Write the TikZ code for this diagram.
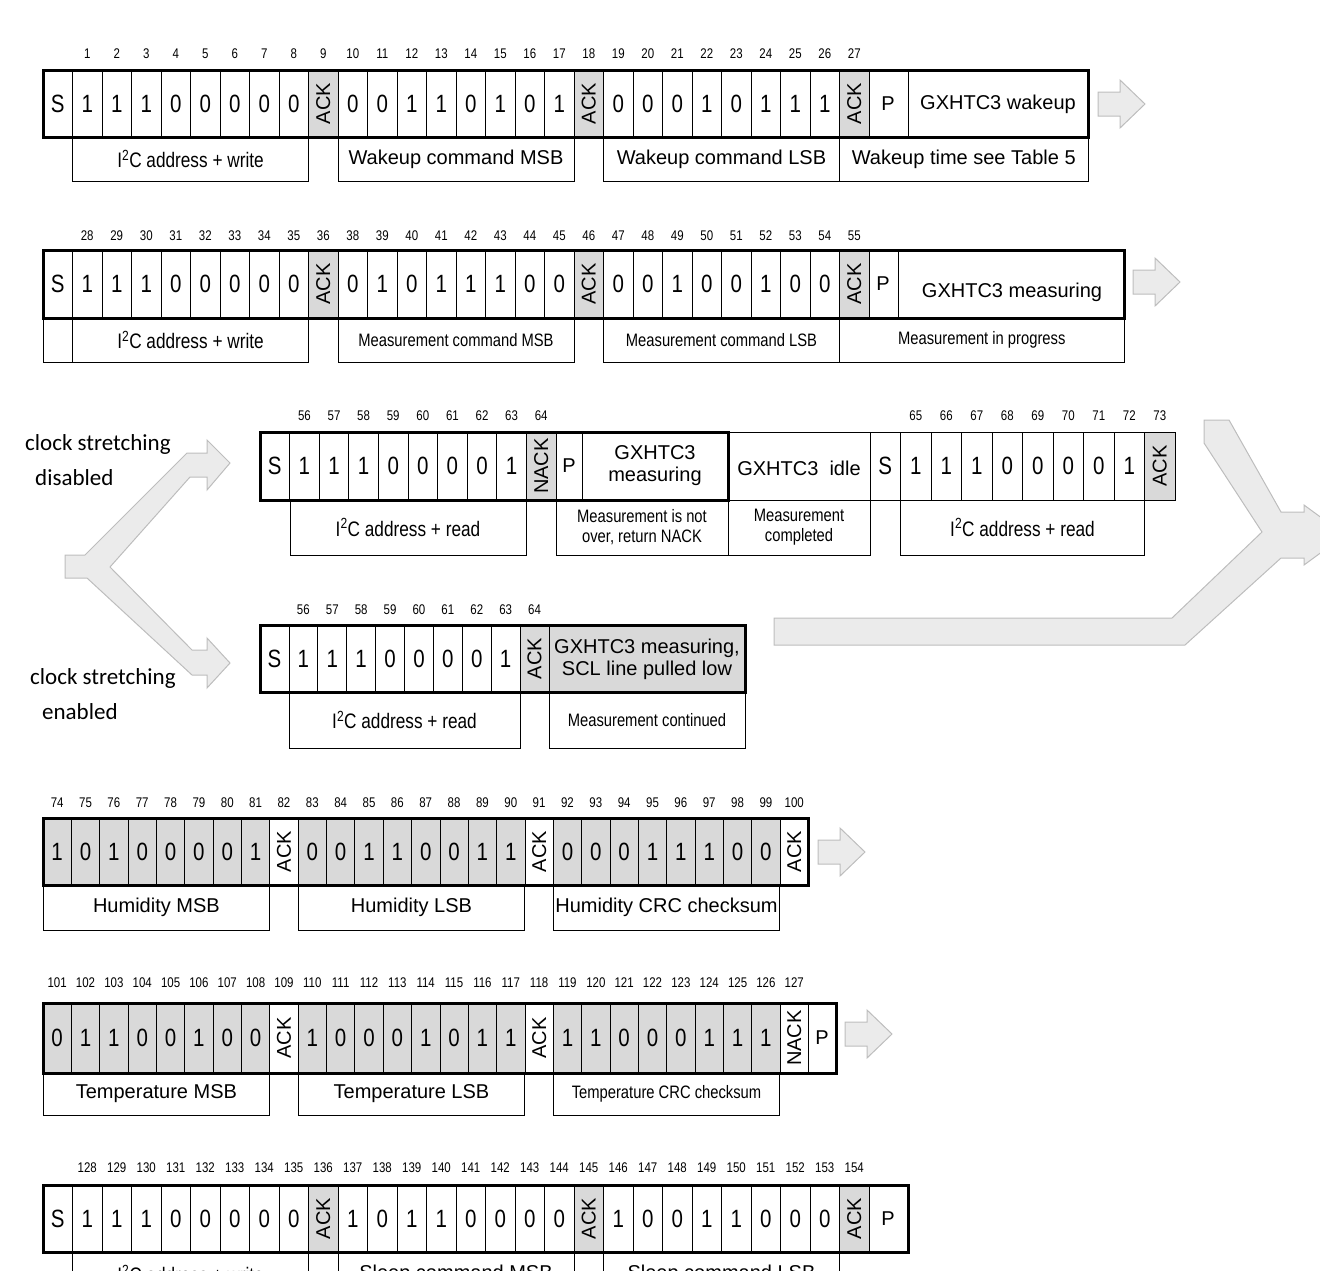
\documentclass[tikz,border=0pt]{standalone}
\usepackage{fontspec}
\usepackage{ifthen}
\setmainfont{Liberation Sans}
\newfontfamily\narrow[FakeStretch=0.82]{Liberation Sans}
\newfontfamily\calib{Carlito}
\definecolor{ackgray}{HTML}{D9D9D9}
\definecolor{arrfill}{HTML}{EBEBEB}
\definecolor{arrline}{HTML}{BDBDBD}
\tikzset{
 cell/.style={draw=black,line width=0.8pt},
 frame/.style={draw=black,line width=3pt},
 bit/.style={font=\narrow\fontsize{25}{25}\selectfont,inner sep=0pt},
 ack/.style={font=\fontsize{20}{20}\selectfont,rotate=90,inner sep=0pt},
 num/.style={font=\narrow\fontsize{14}{14}\selectfont,inner sep=0pt},
 labt/.style={font=\narrow\fontsize{21}{21}\selectfont,inner sep=0pt,align=center},
 labs/.style={font=\narrow\fontsize{18}{18}\selectfont,inner sep=0pt,align=center},
 txt/.style={font=\fontsize{20}{22}\selectfont,inner sep=0pt,align=center},
 side/.style={font=\calib\fontsize{23}{23}\selectfont,inner sep=0pt,anchor=west},
 blkarrow/.style={fill=arrfill,draw=arrline,line width=1pt,line join=miter},
}
% #1 name, #2 x0, #3 ytop, #4 ybot, #5 w, #6 cells, #7 fill
\newcommand\bitrow[7]{%
 \foreach \t [count=\i from 0] in {#6}{%
   \pgfmathsetmacro\xa{#2+\i*#5}\pgfmathsetmacro\xb{\xa+#5}\pgfmathsetmacro\xc{\xa+#5/2}%
   \pgfmathsetmacro\yc{(#3+#4)/2}%
   \ifthenelse{\equal{\t}{A}\OR\equal{\t}{N}}{\def\cf{ackgray}}{%
     \ifthenelse{\equal{\t}{a}\OR\equal{\t}{n}}{\def\cf{white}}{\def\cf{#7}}}%
   \path[cell,fill=\cf] (\xa,#3) rectangle (\xb,#4);
   \ifthenelse{\equal{\t}{A}\OR\equal{\t}{a}}{\node[ack] (#1-\i) at (\xc,\yc) {ACK};}{%
     \ifthenelse{\equal{\t}{N}\OR\equal{\t}{n}}{\node[ack] (#1-\i) at (\xc,\yc) {NACK};}{%
       \node[bit] (#1-\i) at (\xc,\yc) {\t};}}%
 }}
% #1 name #2 x0 #3 y #4 w #5 first cell #6 first num #7 last num
\newcommand\nums[7]{%
 \foreach \n [count=\i from 0] in {#6,...,#7}{%
   \node[num] (#1-n\n) at ({#2+(#5+\i+0.5)*#4},#3) {\n};}}
% #1 name #2 x1 #3 x2 #4 ytop #5 ybot #6 style #7 text
\newcommand\lab[7]{%
 \draw[cell] (#2,#4) rectangle (#3,#5);
 \node[#6] (#1) at ({(#2+#3)/2},{(#4+#5)/2}) {#7};}
% block arrow: #1 x, #2 y centre
\newcommand\blk[2]{%
 \draw[blkarrow] (#1,#2-12) -- ++(22,0) -- ++(0,-12) -- ++(25,24) -- ++(-25,24) -- ++(0,-12) -- ++(-22,0) -- cycle;}
\newcommand\Itwo{I\textsuperscript{2}C}
\begin{document}
\begin{tikzpicture}[x=1pt,y=-1pt]
\useasboundingbox (0,0) rectangle (1320,1270);
\clip (0,0) rectangle (1320,1270);

% ---------- Row 1
\bitrow{r1}{43}{70}{137}{29.5}{S,1,1,1,0,0,0,0,0,A,0,0,1,1,0,1,0,1,A,0,0,0,1,0,1,1,1,A}{white}
\nums{r1}{43}{54}{29.5}{1}{1}{27}
\draw[cell] (869,70) rectangle (908,137); \node[txt] (r1p) at (888,104) {P};
\node[txt] (r1t) at (998,104) {GXHTC3 wakeup};
\draw[frame] (43,70) rectangle (1088,137);
\lab{r1l1}{72.5}{308.5}{137}{181}{labt}{\Itwo\ address + write}
\lab{r1l2}{338}{574}{137}{181}{txt}{Wakeup command MSB}
\lab{r1l3}{603.5}{839.5}{137}{181}{txt}{Wakeup command LSB}
\lab{r1l4}{839.5}{1088}{137}{181}{txt}{Wakeup time see Table 5}
\blk{1098}{104}

% ---------- Row 2
\bitrow{r2}{43}{250}{318}{29.5}{S,1,1,1,0,0,0,0,0,A,0,1,0,1,1,1,0,0,A,0,0,1,0,0,1,0,0,A}{white}
\nums{r2}{43}{236}{29.5}{1}{28}{36}
\nums{r2}{43}{236}{29.5}{10}{38}{55}
\draw[cell] (869,250) rectangle (898,318); \node[txt] (r2p) at (883,284) {P};
\node[txt] (r2t) at (1012,292) {GXHTC3 measuring};
\draw[frame] (43,250) rectangle (1124,318);
\lab{r2l0}{43}{72.5}{318}{362}{labs}{}
\lab{r2l1}{72.5}{308.5}{318}{362}{labt}{\Itwo\ address + write}
\lab{r2l2}{338}{574}{318}{362}{labs}{Measurement command MSB}
\lab{r2l3}{603.5}{839.5}{318}{362}{labs}{Measurement command LSB}
\lab{r2l4}{839.5}{1124}{318}{362}{labs}{Measurement in progress}
\blk{1133}{282}

% ---------- Row 3
\bitrow{r3}{260}{432}{500}{29.6}{S,1,1,1,0,0,0,0,1,N}{white}
\nums{r3}{260}{416}{29.6}{1}{56}{64}
\draw[cell] (556,432) rectangle (582,500); \node[txt] (r3p) at (569,466) {P};
\node[txt] (r3t) at (655,466) {GXHTC3\\measuring};
\draw[cell] (728,432) rectangle (870,500); \node[txt] (r3i) at (799,468) {GXHTC3\ \ idle};
\bitrow{r3b}{870}{432}{500}{30.5}{S,1,1,1,0,0,0,0,1,A}{white}
\nums{r3b}{870}{416}{30.5}{1}{65}{73}
\draw[frame] (260,432) rectangle (728,500);
\lab{r3l1}{290}{526}{500}{555}{labt}{\Itwo\ address + read}
\lab{r3l2}{556}{728}{500}{555}{labs}{Measurement is not\\[2pt]over, return NACK}
\lab{r3l3}{728}{870}{500}{555}{labs}{Measurement\\[2pt]completed}
\lab{r3l4}{900.5}{1144.5}{500}{555}{labt}{\Itwo\ address + read}

% ---------- Row 4
\bitrow{r4}{260}{625}{692}{28.9}{S,1,1,1,0,0,0,0,1,A}{white}
\nums{r4}{260}{610}{28.9}{1}{56}{64}
\draw[cell,fill=ackgray] (549,625) rectangle (745,692);
\node[txt] (r4t) at (647,659) {GXHTC3 measuring,\\SCL line pulled low};
\draw[frame] (260,625) rectangle (745,692);
\lab{r4l1}{289}{520}{692}{748}{labt}{\Itwo\ address + read}
\lab{r4l2}{549}{745}{692}{748}{labs}{Measurement continued}

% ---------- side texts and fork arrow
\node[side] (cs1) at (25,444) {clock stretching};
\node[side] (cs1b) at (35,478) {disabled};
\node[side] (cs2) at (30,678) {clock stretching};
\node[side] (cs2b) at (42,712) {enabled};
\draw[blkarrow] (65,555) -- (85,555) -- (187,453) -- (207,453) -- (207,440) -- (230,463) -- (207,490) -- (207,477) -- (190,477) -- (110,567) -- (192,650) -- (207,650) -- (207,638) -- (230,663) -- (207,688) -- (207,675) -- (192,675) -- (87,578) -- (65,578) -- cycle;
\draw[blkarrow] (774,618) -- (1172,618) -- (1262,532) -- (1204,443) -- (1204,420) -- (1229,420) -- (1281,512) -- (1304,512) -- (1304,505) -- (1345,535) -- (1304,565) -- (1304,558) -- (1281,558) -- (1185,645) -- (774,645) -- cycle;

% ---------- Row 5
\bitrow{r5}{43}{818}{885}{28.35}{1,0,1,0,0,0,0,1,a,0,0,1,1,0,0,1,1,a,0,0,0,1,1,1,0,0,a}{ackgray}
\nums{r5}{43}{803}{28.35}{0}{74}{100}
\draw[frame] (43,818) rectangle (808,885);
\lab{r5l1}{43}{269.8}{885}{930}{txt}{Humidity MSB}
\lab{r5l2}{298.2}{524.8}{885}{930}{txt}{Humidity LSB}
\lab{r5l3}{553.2}{779.8}{885}{930}{txt}{Humidity CRC checksum}
\blk{818}{852}

% ---------- Row 6
\bitrow{r6}{43}{1003}{1073}{28.35}{0,1,1,0,0,1,0,0,a,1,0,0,0,1,0,1,1,a,1,1,0,0,0,1,1,1,n}{ackgray}
\nums{r6}{43}{983}{28.35}{0}{101}{127}
\draw[cell] (808,1003) rectangle (836,1073); \node[txt] (r6p) at (822,1038) {P};
\draw[frame] (43,1003) rectangle (836,1073);
\lab{r6l1}{43}{269.8}{1073}{1115}{txt}{Temperature MSB}
\lab{r6l2}{298.2}{524.8}{1073}{1115}{txt}{Temperature LSB}
\lab{r6l3}{553.2}{779.8}{1073}{1115}{labs}{Temperature CRC checksum}
\blk{845}{1034}

% ---------- Row 7
\bitrow{r7}{43}{1185}{1252}{29.5}{S,1,1,1,0,0,0,0,0,A,1,0,1,1,0,0,0,0,A,1,0,0,1,1,0,0,0,A}{white}
\nums{r7}{43}{1168}{29.5}{1}{128}{154}
\draw[cell] (869,1185) rectangle (908,1252); \node[txt] (r7p) at (888,1219) {P};
\draw[frame] (43,1185) rectangle (908,1252);
\lab{r7l1}{72.5}{308.5}{1252}{1296}{labt}{\Itwo\ address + write}
\lab{r7l2}{338}{574}{1252}{1296}{txt}{Sleep command MSB}
\lab{r7l3}{603.5}{839.5}{1252}{1296}{txt}{Sleep command LSB}
\end{tikzpicture}
\end{document}
